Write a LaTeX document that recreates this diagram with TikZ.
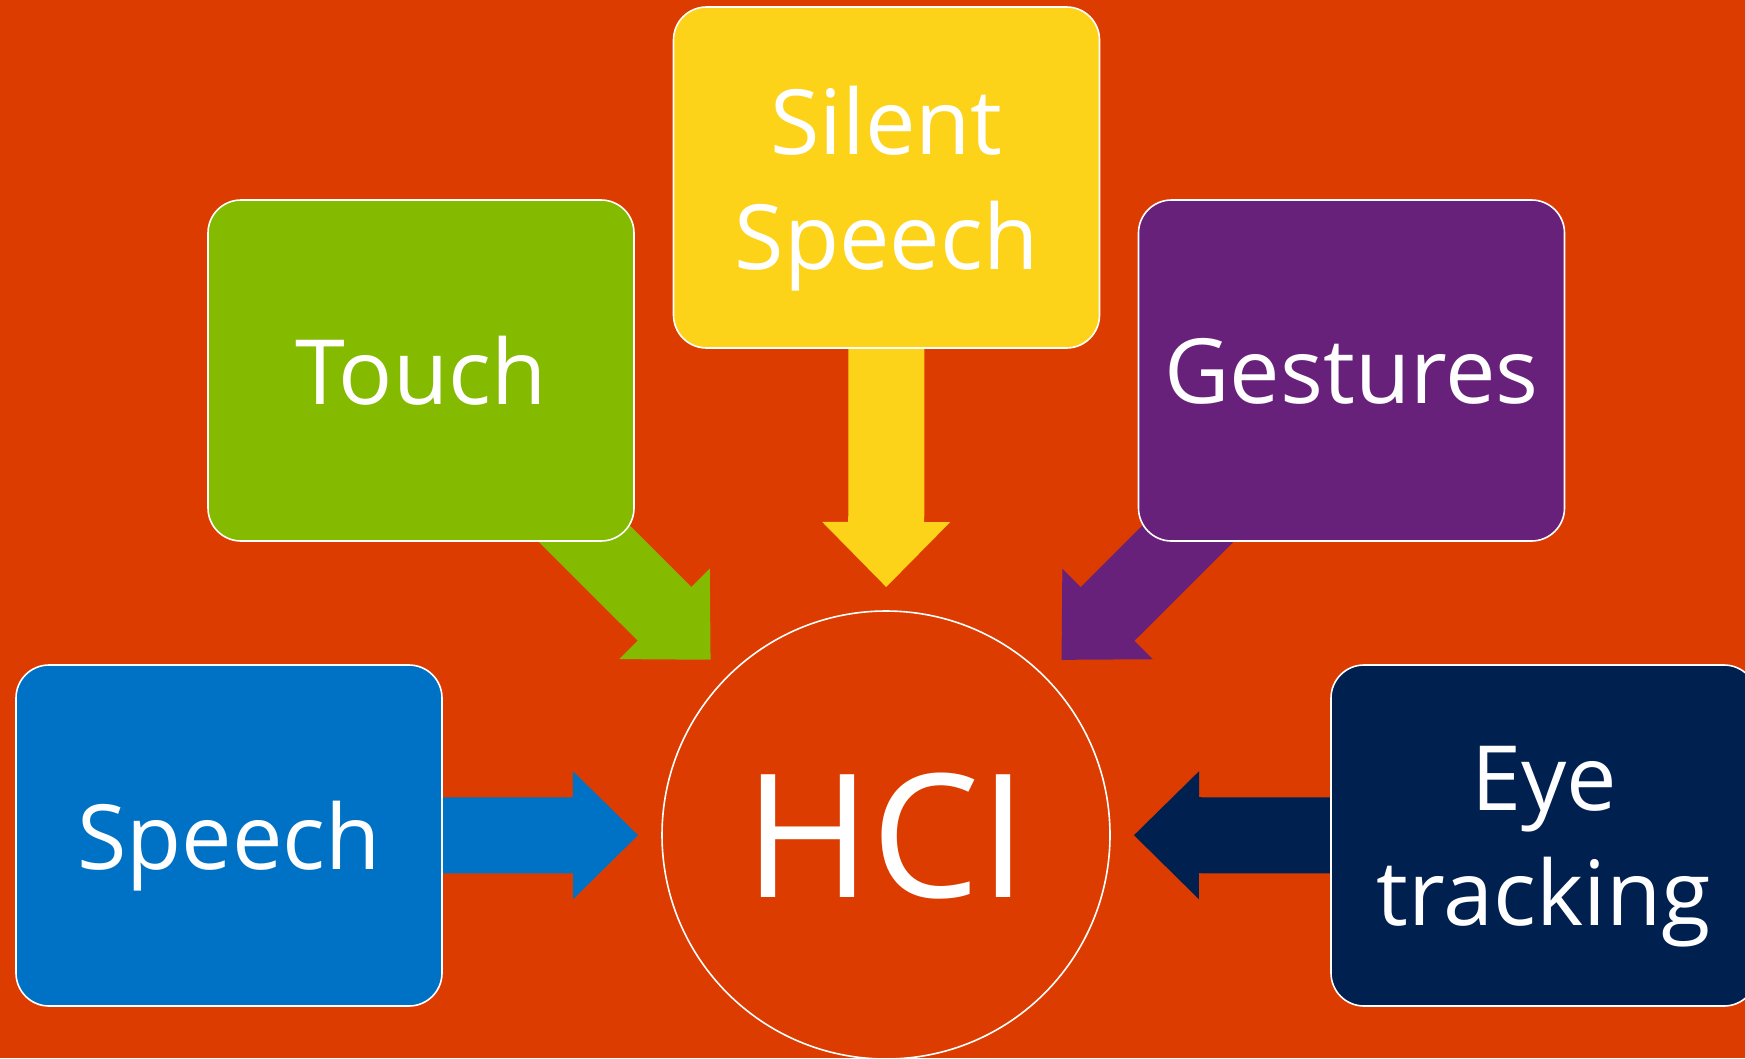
\documentclass[tikz,border=0pt]{standalone}
\usepackage{fontspec}
\setmainfont{Open Sans}
\usepackage{tikz}
\usetikzlibrary{calc}
\definecolor{hcibg}{HTML}{DC3C00}
\definecolor{hcigreen}{HTML}{84BA00}
\definecolor{hciyellow}{HTML}{FDD319}
\definecolor{hcipurple}{HTML}{68217A}
\definecolor{hciblue}{HTML}{0072C6}
\definecolor{hcinavy}{HTML}{002050}
\pgfdeclarelayer{under}
\pgfsetlayers{under,main}

\begin{document}
\begin{tikzpicture}[x=1pt,y=-1pt,
  modality/.style={rectangle, rounded corners=33pt, draw=white, line width=1.6pt,
    minimum width=426pt, minimum height=341pt, inner sep=0pt, align=center,
    text=white, text depth=0pt, font=\fontsize{90}{115}\selectfont},
  hub/.style={circle, draw=white, line width=1.6pt, minimum size=448pt, inner sep=0pt,
    text=white, text depth=0pt, font=\fontsize{172}{200}\selectfont}]
\def\sw{38pt} % half shaft width
\def\hw{64pt} % half head width
\def\hl{65pt} % head length
\useasboundingbox (0,0) rectangle (1745,1058);
\begin{pgfonlayer}{under}
  \fill[hcibg] (0,0) rectangle (1745,1058);
\end{pgfonlayer}
\clip (0,0) rectangle (1745,1058);
% centre
\node[hub] (hci) at (886,835) {HCI};
% input channels round it
\foreach \nm/\x/\y/\col/\txt in {%
   touch/421/370.5/hcigreen/{Touch},
   silent/886.5/177.5/hciyellow/{Silent\\Speech},
   gestures/1351.5/370.5/hcipurple/{Gestures},
   speech/229/835.5/hciblue/{Speech},
   eye/1544/835.5/hcinavy/{Eye\\tracking}}{
   \node[modality, fill=\col] (\nm) at (\x,\y) {\txt};
}
% block arrows, behind the boxes
\begin{pgfonlayer}{under}
\foreach \nm/\col in {touch/hcigreen, silent/hciyellow, gestures/hcipurple,
                      speech/hciblue, eye/hcinavy}{
   \coordinate (\nm-tip) at ($(hci.center)!248pt!(\nm.center)$);
   \coordinate (\nm-base) at ($(\nm-tip)!\hl!(\nm.center)$);
   \fill[\col] ($(\nm.center)!\sw!90:(\nm-tip)$)
     -- ($(\nm-base)!\sw!-90:(\nm.center)$)
     -- ($(\nm-base)!\hw!-90:(\nm.center)$)
     -- (\nm-tip)
     -- ($(\nm-base)!\hw!90:(\nm.center)$)
     -- ($(\nm-base)!\sw!90:(\nm.center)$)
     -- ($(\nm.center)!\sw!-90:(\nm-tip)$) -- cycle;
}
\end{pgfonlayer}
\end{tikzpicture}
\end{document}
